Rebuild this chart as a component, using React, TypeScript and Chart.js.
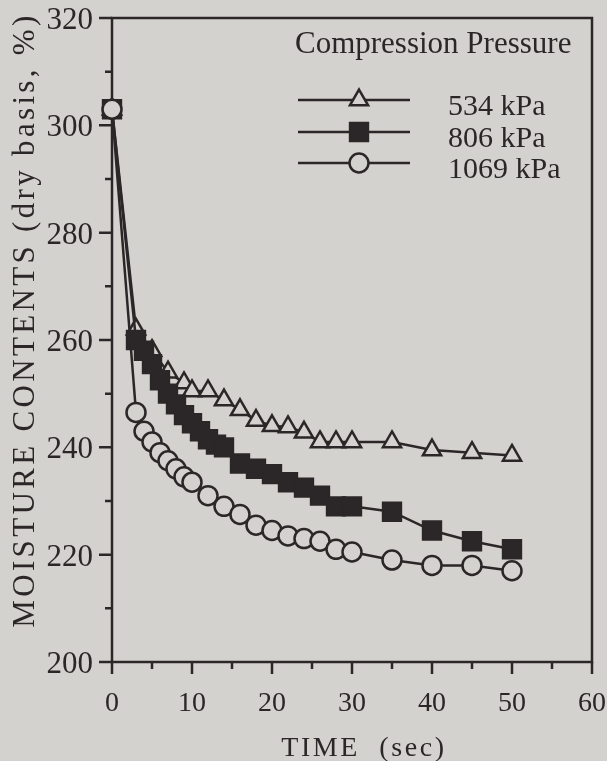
import React, { useEffect, useRef } from 'react';
import { Chart, registerables } from 'chart.js';

Chart.register(...registerables);

const BG = '#d4d2ce';
const INK = '#2b2728';
const SERIF = "'Liberation Serif', 'Times New Roman', serif";

// ---- data ----
const time534 = [0, 3, 5, 7, 9, 10, 12, 14, 16, 18, 20, 22, 24, 26, 28, 30, 35, 40, 45, 50];
const mc534 = [303, 262, 258, 254, 252, 250.5, 250.5, 248.8, 247, 245, 244, 243.8, 242.8, 241, 241, 241, 241, 239.5, 239, 238.5];

const time806 = [0, 3, 4, 5, 6, 7, 8, 9, 10, 11, 12, 13, 14, 16, 18, 20, 22, 24, 26, 28, 30, 35, 40, 45, 50];
const mc806 = [303, 260, 258, 255.5, 252.5, 250, 248, 246, 244.5, 243, 241.5, 240.5, 240, 237, 236, 235, 233.5, 232.5, 231, 229, 229, 228, 224.5, 222.5, 221];

const time1069 = [0, 3, 4, 5, 6, 7, 8, 9, 10, 12, 14, 16, 18, 20, 22, 24, 26, 28, 30, 35, 40, 45, 50];
const mc1069 = [303, 246.5, 243, 241, 239, 237.5, 236, 234.5, 233.5, 231, 229, 227.5, 225.5, 224.5, 223.5, 223, 222.5, 221, 220.5, 219, 218, 218, 217];

const seriesLabels = ['534 kPa', '806 kPa', '1069 kPa'];
const legendTitle = 'Compression Pressure';
const xTitle = 'TIME  (sec)';
const yTitle = 'MOISTURE CONTENTS (dry basis, %)';

const X_MIN = 0, X_MAX = 60, X_STEP = 5, X_LABEL_STEP = 10;
const Y_MIN = 200, Y_MAX = 320, Y_STEP = 10, Y_LABEL_STEP = 20;

const toPoints = (xs: number[], ys: number[]) => xs.map((x, i) => ({ x, y: ys[i] }));

type MarkerSpec = { style: 'triangle' | 'rect' | 'circle'; radius: number; border: number; fill: string };
const markers: MarkerSpec[] = [
  { style: 'triangle', radius: 10.5, border: 2.5, fill: BG },
  { style: 'rect', radius: 13, border: 2, fill: INK },
  { style: 'circle', radius: 9.5, border: 2.5, fill: BG },
];

function drawMarker(ctx: CanvasRenderingContext2D, m: MarkerSpec, x: number, y: number) {
  ctx.save();
  ctx.beginPath();
  const r = m.radius;
  if (m.style === 'triangle') {
    let a = 0;
    ctx.moveTo(x + Math.sin(a) * r, y - Math.cos(a) * r);
    a += (2 * Math.PI) / 3;
    ctx.lineTo(x + Math.sin(a) * r, y - Math.cos(a) * r);
    a += (2 * Math.PI) / 3;
    ctx.lineTo(x + Math.sin(a) * r, y - Math.cos(a) * r);
    ctx.closePath();
  } else if (m.style === 'rect') {
    const s = Math.SQRT1_2 * r;
    ctx.rect(x - s, y - s, 2 * s, 2 * s);
  } else {
    ctx.arc(x, y, r, 0, Math.PI * 2);
  }
  ctx.fillStyle = m.fill;
  ctx.fill();
  ctx.lineWidth = m.border;
  ctx.strokeStyle = INK;
  ctx.stroke();
  ctx.restore();
}

const bgPlugin = {
  id: 'bgFill',
  beforeDraw(chart: any) {
    const ctx = chart.ctx;
    ctx.save();
    ctx.fillStyle = BG;
    ctx.fillRect(0, 0, chart.width, chart.height);
    ctx.restore();
  },
};

const framePlugin = {
  id: 'frameTicks',
  beforeDatasetsDraw(chart: any) {
    const ctx = chart.ctx as CanvasRenderingContext2D;
    const { left, right, top, bottom } = chart.chartArea;
    const xs = chart.scales.x;
    const ys = chart.scales.y;
    ctx.save();
    ctx.strokeStyle = INK;
    ctx.lineWidth = 2.5;
    ctx.strokeRect(left, top, right - left, bottom - top);
    ctx.beginPath();
    ys.ticks.forEach((t: any) => {
      const py = ys.getPixelForValue(t.value);
      const len = t.value % Y_LABEL_STEP === 0 ? 13 : 7;
      ctx.moveTo(left - len, py);
      ctx.lineTo(left, py);
    });
    xs.ticks.forEach((t: any) => {
      const px = xs.getPixelForValue(t.value);
      const len = t.value % X_LABEL_STEP === 0 ? 12 : 7;
      ctx.moveTo(px, bottom);
      ctx.lineTo(px, bottom + len);
    });
    ctx.stroke();
    ctx.restore();
  },
};

function spacedText(ctx: CanvasRenderingContext2D, text: string, targetWidth: number) {
  (ctx as any).letterSpacing = '0px';
  const w = ctx.measureText(text).width;
  const ls = Math.max(0, (targetWidth - w) / Math.max(1, text.length - 1));
  (ctx as any).letterSpacing = `${ls}px`;
}

const titlesPlugin = {
  id: 'axisTitles',
  afterDraw(chart: any) {
    const ctx = chart.ctx as CanvasRenderingContext2D;
    ctx.save();
    ctx.fillStyle = INK;
    ctx.font = `31px ${SERIF}`;
    spacedText(ctx, yTitle, 612);
    ctx.translate(26, 320);
    ctx.rotate(-Math.PI / 2);
    ctx.textAlign = 'center';
    ctx.textBaseline = 'middle';
    ctx.fillText(yTitle, 0, 0);
    ctx.restore();

    ctx.save();
    ctx.fillStyle = INK;
    ctx.font = `28px ${SERIF}`;
    spacedText(ctx, xTitle, 163);
    ctx.textAlign = 'center';
    ctx.textBaseline = 'alphabetic';
    ctx.fillText(xTitle, 364, 756);
    ctx.restore();
  },
};

const legendPlugin = {
  id: 'customLegend',
  afterDraw(chart: any) {
    const ctx = chart.ctx as CanvasRenderingContext2D;
    ctx.save();
    ctx.fillStyle = INK;
    ctx.font = `31px ${SERIF}`;
    ctx.textAlign = 'left';
    ctx.textBaseline = 'alphabetic';
    ctx.fillText(legendTitle, 295, 53);
    const rowY = [100, 132, 163];
    seriesLabels.forEach((lab, i) => {
      const y = rowY[i];
      ctx.beginPath();
      ctx.strokeStyle = INK;
      ctx.lineWidth = 2.5;
      ctx.moveTo(298, y);
      ctx.lineTo(410, y);
      ctx.stroke();
      drawMarker(ctx, markers[i], 359, y);
      ctx.fillStyle = INK;
      ctx.font = `30px ${SERIF}`;
      ctx.fillText(lab, 448, y + 15);
    });
    ctx.restore();
  },
};

export default function App() {
  const ref = useRef<HTMLCanvasElement>(null);

  useEffect(() => {
    const canvas = ref.current;
    if (!canvas) return;
    const makeDs = (label: string, xs: number[], ys: number[], m: MarkerSpec, order: number) => ({
      label,
      data: toPoints(xs, ys),
      borderColor: INK,
      borderWidth: 2.5,
      pointStyle: m.style,
      pointRadius: m.radius,
      pointBorderWidth: m.border,
      pointBackgroundColor: m.fill,
      pointBorderColor: INK,
      showLine: true,
      fill: false,
      tension: 0,
      clip: false as any,
      order,
    });
    const chart = new Chart(canvas, {
      type: 'line',
      data: {
        datasets: [
          makeDs(seriesLabels[0], time534, mc534, markers[0], 2),
          makeDs(seriesLabels[1], time806, mc806, markers[1], 1),
          makeDs(seriesLabels[2], time1069, mc1069, markers[2], 0),
        ] as any,
      },
      options: {
        responsive: false,
        animation: false,
        devicePixelRatio: 1,
        layout: { padding: { top: 18, right: 14, left: 0, bottom: 0 } },
        plugins: {
          legend: { display: false },
          tooltip: { enabled: false },
        },
        scales: {
          x: {
            type: 'linear',
            min: X_MIN,
            max: X_MAX,
            grid: { display: false, drawTicks: false },
            border: { display: false },
            ticks: {
              stepSize: X_STEP,
              autoSkip: false,
              maxRotation: 0,
              color: INK,
              padding: 28,
              font: { family: SERIF, size: 28, lineHeight: 1 },
              callback: (v: any) => (Number(v) % X_LABEL_STEP === 0 ? String(v) : ''),
            },
            afterFit: (s: any) => {
              s.height = 99;
              s.paddingLeft = 0;
              s.paddingRight = 0;
              s.paddingTop = 0;
              s.paddingBottom = 0;
            },
          },
          y: {
            type: 'linear',
            min: Y_MIN,
            max: Y_MAX,
            grid: { display: false, drawTicks: false },
            border: { display: false },
            ticks: {
              stepSize: Y_STEP,
              autoSkip: false,
              color: INK,
              padding: 19,
              labelOffset: 3,
              font: { family: SERIF, size: 31, lineHeight: 1 },
              callback: (v: any) => (Number(v) % Y_LABEL_STEP === 0 ? String(v) : ''),
            },
            afterFit: (s: any) => {
              s.width = 112;
              s.paddingLeft = 0;
              s.paddingRight = 0;
              s.paddingTop = 0;
              s.paddingBottom = 0;
            },
          },
        },
      } as any,
      plugins: [bgPlugin, framePlugin, titlesPlugin, legendPlugin],
    });
    return () => chart.destroy();
  }, []);

  return (
    <div style={{ position: 'fixed', left: 0, top: 0, width: 607, height: 761, background: BG }}>
      <canvas ref={ref} width={607} height={761} style={{ display: 'block', width: 607, height: 761 }} />
    </div>
  );
}
